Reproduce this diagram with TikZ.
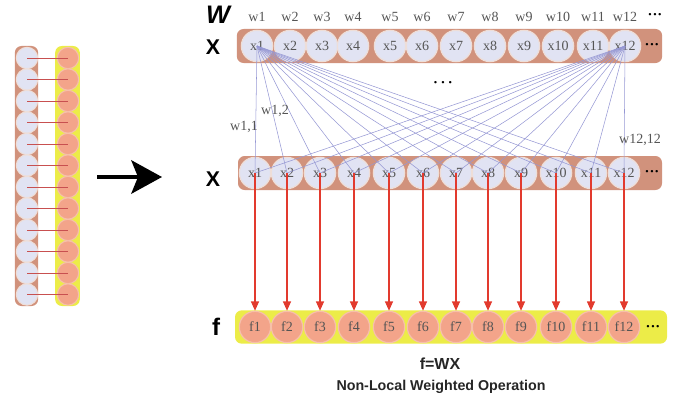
\documentclass[tikz,border=0pt]{standalone}
\usepackage{fontspec}
\setmainfont{Liberation Serif}
\setsansfont{Liberation Sans}
\usetikzlibrary{arrows.meta}
\definecolor{barbrown}{RGB}{209,146,124}
\definecolor{lav}{RGB}{225,227,243}
\definecolor{ringc}{RGB}{238,222,216}
\definecolor{salmon}{RGB}{243,164,138}
\definecolor{ringf}{RGB}{246,192,170}
\definecolor{ybar}{RGB}{236,236,72}
\definecolor{linec}{RGB}{150,152,212}
\definecolor{redc}{RGB}{226,58,46}
\definecolor{pairc}{RGB}{200,80,80}
\definecolor{txtgrey}{RGB}{85,85,85}
\begin{document}
\begin{tikzpicture}[x=0.75pt,y=-0.75pt,
  xc/.style={circle, fill=lav, draw=ringc, line width=0.9pt, minimum size=23.5pt, inner sep=0pt, text=txtgrey, font=\fontsize{10.5}{10.5}\selectfont},
  fc/.style={circle, fill=salmon, draw=ringf, line width=0.9pt, minimum size=23.5pt, inner sep=0pt, text=txtgrey, font=\fontsize{10.5}{10.5}\selectfont},
  sxc/.style={circle, fill=lav, draw=ringc, line width=0.8pt, minimum size=16pt, inner sep=0pt},
  sfc/.style={circle, fill=salmon, draw=ringf, line width=0.8pt, minimum size=16pt, inner sep=0pt},
  brbar/.style={rectangle, rounded corners=5pt, fill=barbrown, inner sep=0pt},
  yebar/.style={rectangle, rounded corners=5pt, fill=ybar, inner sep=0pt},
  lbl/.style={text=txtgrey, inner sep=0pt, font=\fontsize{10.5}{10.5}\selectfont},
  big/.style={inner sep=0pt, font=\sffamily\bfseries\fontsize{16}{16}\selectfont},
  captext/.style={inner sep=0pt, text=black!85, font=\sffamily\bfseries\fontsize{10.7}{11}\selectfont},
  dotsl/.style={inner sep=0pt, font=\bfseries\fontsize{11}{11}\selectfont},
  wline/.style={draw=linec, line width=0.4pt},
  redarr/.style={draw=redc, line width=0.9pt, -{Triangle[length=7pt,width=6pt]}},
  pairline/.style={draw=pairc, line width=0.5pt}
]
\useasboundingbox (0,0) rectangle (680,403);

% left part
\node[brbar, minimum width=17.5pt, minimum height=195pt] (lbar) at (26.5,176) {};
\node[yebar, minimum width=18.5pt, minimum height=195pt] (rbar) at (67.5,176) {};
\foreach \k in {0,...,11} {
  \node[sxc] (la\k) at (27,{58+21.5*\k}) {};
  \node[sfc] (lb\k) at (68,{58+21.5*\k}) {};
  \draw[pairline] (la\k.center) -- (lb\k.center);
}
\coordinate (as) at (97,177);
\coordinate (ae) at (162,177);
\draw[line width=3pt, -{Stealth[length=23pt,width=25pt,inset=5pt]}] (as) -- (ae);

% bars
\node[brbar, minimum width=319pt, minimum height=25.5pt] (topbar) at (449.5,46) {};
\node[brbar, minimum width=318pt, minimum height=25.5pt] (midbar) at (450,173) {};
\node[yebar, minimum width=324pt, minimum height=25pt] (fbar) at (451,327) {};

% row labels
\node[inner sep=0pt, font=\sffamily\bfseries\itshape\fontsize{19}{19}\selectfont] (W) at (218,15) {W};
\node[big] (X1) at (213,47) {X};
\node[big] (X2) at (213,179) {X};
\node[big, font=\sffamily\bfseries\fontsize{18}{18}\selectfont] (F) at (216,327) {f};

\foreach \i/\xt/\xm in {1/257/255, 2/290/287, 3/322/320, 4/353/354, 5/390/389, 6/422/423, 7/456/456, 8/490/488, 9/524/521, 10/558/556, 11/593/591, 12/625/624} {
  \node[lbl] (w\i) at (\xt,17) {w\i};
  \node[xc] (t\i) at (\xt,46) {x\i};
  \node[xc] (m\i) at (\xm,173) {x\i};
  \node[fc] (f\i) at (\xm,327) {f\i};
}

% weight lines
\foreach \j in {1,...,12} {
  \draw[wline] (t1.center) -- (m\j.center);
  \draw[wline] (t12.center) -- (m\j.center);
}
% red arrows
\foreach \i in {1,...,12} {
  \draw[redarr] (m\i.center) -- (f\i.north);
}

% dots
\node[dotsl] (d1) at (655,16) {\textperiodcentered\textperiodcentered\textperiodcentered};
\node[dotsl] (d2) at (652,46) {\textperiodcentered\textperiodcentered\textperiodcentered};
\node[dotsl] (d3) at (443,84) {\textperiodcentered\,\textperiodcentered\,\textperiodcentered};
\node[dotsl] (d4) at (652,173) {\textperiodcentered\textperiodcentered\textperiodcentered};
\node[dotsl] (d5) at (653,328) {\textperiodcentered\textperiodcentered\textperiodcentered};

% weight labels
\node[lbl] (l11) at (244,127) {w1,1};
\node[lbl] (l12) at (275,111) {w1,2};
\node[lbl] (l1212) at (640,140) {w12,12};

% captions
\node[captext, font=\sffamily\bfseries\fontsize{12}{12}\selectfont] (eq) at (440,364) {f=WX};
\node[captext] (title) at (441,387) {Non-Local Weighted Operation};
\end{tikzpicture}
\end{document}
